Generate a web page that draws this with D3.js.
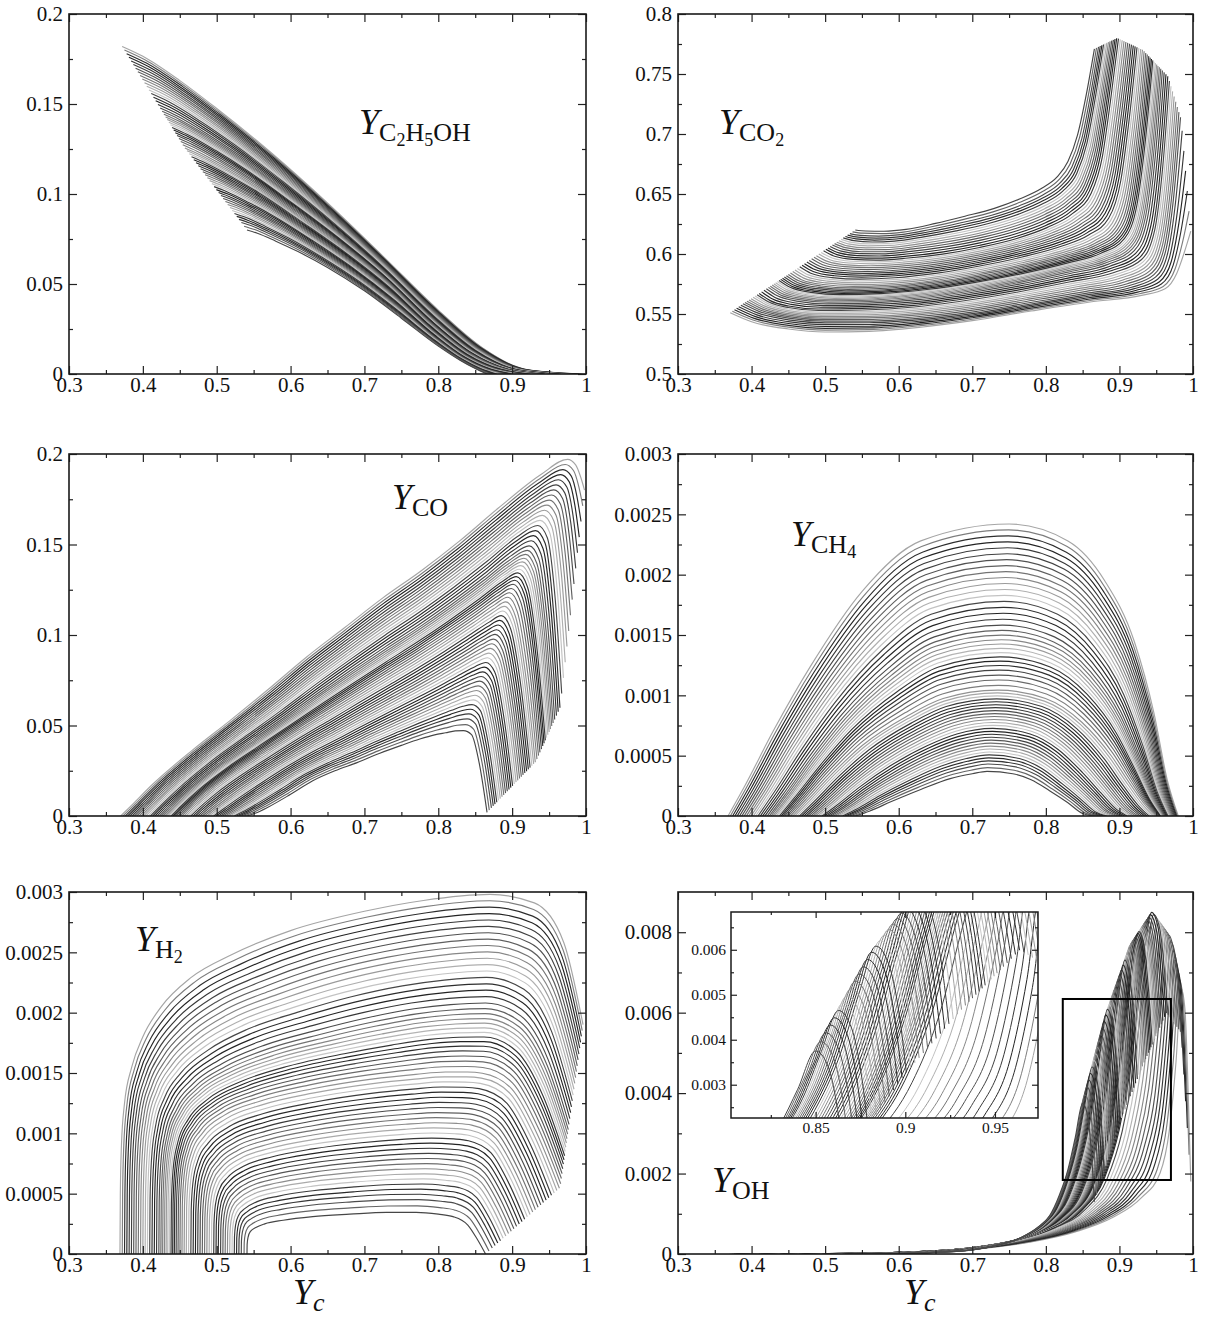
<!DOCTYPE html>
<html><head><meta charset="utf-8">
<script src="https://cdn.jsdelivr.net/npm/d3@7"></script>
<style>
body{margin:0;background:#fff}
svg{display:block}
text{font-family:"Liberation Serif","Times New Roman",serif}
</style>
</head><body>
<svg id="fig" width="1210" height="1319"></svg>
<script>
// ---------------- DATA ----------------
// flamelet family parameter (0 = earliest start, 1 = latest start), one per curve
const flameletU = [0,0.018,0.036,0.054,0.072,0.09,0.108,0.126,0.144,0.162,
  0.18,0.198,0.216,0.234,0.252,0.27,0.288,0.306,0.322,0.336,
  0.35,0.363,0.376,0.389,0.402,0.415,0.428,0.442,0.457,0.472,
  0.488,0.505,0.522,0.54,0.558,0.576,0.594,0.612,0.63,0.648,
  0.666,0.684,0.702,0.72,0.738,0.756,0.774,0.792,0.81,0.828,
  0.846,0.864,0.882,0.9,0.918,0.936,0.955,0.977,1.0];
// grey level of each curve
const flameletGray = [165,125,45,35,55,65,80,95,115,135,155,175,195,
  70,45,35,55,75,95,115,135,155,180,200,
  55,35,45,65,85,105,125,145,165,190,
  60,40,35,55,75,95,115,140,170,195,
  55,35,45,65,85,110,140,170,195,
  60,40,55,75,100,70];

// axis ticks
const xMajorTicks = [0.3,0.4,0.5,0.6,0.7,0.8,0.9,1.0];
const xMajorLabels = ["0.3","0.4","0.5","0.6","0.7","0.8","0.9","1"];
const xMinorTicks = [0.35,0.45,0.55,0.65,0.75,0.85,0.95];
const yTicksMass = [0,0.05,0.1,0.15,0.2];
const yLabelsMass = ["0","0.05","0.1","0.15","0.2"];
const yMinorMass = [0.025,0.075,0.125,0.175];
const yTicksCO2 = [0.5,0.55,0.6,0.65,0.7,0.75,0.8];
const yLabelsCO2 = ["0.5","0.55","0.6","0.65","0.7","0.75","0.8"];
const yMinorCO2 = [0.525,0.575,0.625,0.675,0.725,0.775];
const yTicksSmall = [0,0.0005,0.001,0.0015,0.002,0.0025,0.003];
const yLabelsSmall = ["0","0.0005","0.001","0.0015","0.002","0.0025","0.003"];
const yMinorSmall = [0.00025,0.00075,0.00125,0.00175,0.00225,0.00275];
const yTicksOH = [0,0.002,0.004,0.006,0.008];
const yLabelsOH = ["0","0.002","0.004","0.006","0.008"];
const yMinorOH = [0.001,0.003,0.005,0.007];
const insetXTicks = [0.85,0.9,0.95];
const insetXLabels = ["0.85","0.9","0.95"];
const insetXMinor = [0.825,0.875,0.925];
const insetYTicks = [0.003,0.004,0.005,0.006];
const insetYLabels = ["0.003","0.004","0.005","0.006"];
const insetYMinor = [0.0025,0.0035,0.0045,0.0055,0.0065];
const insetXDomain = [0.8028,0.974];
const insetYDomain = [0.00226,0.00684];
const ohZoomBox = [0.823,0.970,0.00184,0.00634];

// key curves  [Yc, Y]
const c2h5ohKeyU = [0,0.5,1];
const c2h5ohA = [[0.372,0.182],[0.40,0.1765],[0.45,0.163],[0.50,0.1475],[0.575,0.1225],[0.65,0.095],[0.725,0.0655],[0.80,0.0355],[0.86,0.0145],[0.92,0.0025],[0.995,0]];
const c2h5ohB = [[0.456,0.126],[0.475,0.1225],[0.51,0.1148],[0.55,0.105],[0.61,0.088],[0.67,0.0705],[0.73,0.051],[0.79,0.0275],[0.84,0.0115],[0.89,0.0025],[0.932,0]];
const c2h5ohC = [[0.541,0.080],[0.555,0.0782],[0.58,0.0738],[0.61,0.068],[0.65,0.0592],[0.70,0.0462],[0.75,0.031],[0.80,0.0155],[0.83,0.0075],[0.85,0.003],[0.866,0]];

const co2KeyU = [0,0.1,0.25,0.5,0.75,1];
const co2A = [[0.371,0.551],[0.40,0.5435],[0.45,0.5375],[0.50,0.535],[0.56,0.5355],[0.63,0.539],[0.70,0.5445],[0.78,0.5525],[0.86,0.560],[0.93,0.5655],[0.962,0.571],[0.978,0.584],[0.988,0.601],[0.997,0.619]];
const co2A1 = [[0.387,0.558],[0.41,0.5515],[0.45,0.546],[0.50,0.5435],[0.56,0.5435],[0.63,0.546],[0.70,0.551],[0.78,0.559],[0.86,0.567],[0.915,0.573],[0.948,0.582],[0.964,0.602],[0.975,0.648],[0.984,0.712]];
const co2D = [[0.41,0.567],[0.425,0.561],[0.45,0.5565],[0.49,0.554],[0.55,0.5545],[0.62,0.557],[0.69,0.5625],[0.76,0.5695],[0.83,0.578],[0.89,0.586],[0.928,0.597],[0.946,0.622],[0.957,0.676],[0.966,0.748]];
const co2B = [[0.455,0.585],[0.47,0.5795],[0.50,0.5755],[0.54,0.574],[0.59,0.575],[0.65,0.579],[0.71,0.585],[0.77,0.5925],[0.83,0.602],[0.865,0.61],[0.893,0.623],[0.91,0.655],[0.921,0.705],[0.932,0.770]];
const co2E = [[0.50,0.6035],[0.515,0.599],[0.54,0.5965],[0.57,0.596],[0.61,0.5975],[0.66,0.601],[0.71,0.6065],[0.76,0.614],[0.80,0.623],[0.835,0.635],[0.86,0.652],[0.875,0.682],[0.886,0.728],[0.897,0.780]];
const co2C = [[0.541,0.620],[0.555,0.6192],[0.58,0.619],[0.61,0.6205],[0.65,0.6255],[0.69,0.6315],[0.73,0.638],[0.765,0.646],[0.795,0.655],[0.815,0.664],[0.83,0.677],[0.843,0.699],[0.855,0.733],[0.866,0.771]];

const coKeyU = [0,0.25,0.5,1];
const coA = [[0.37,0],[0.385,0.006],[0.414,0.0178],[0.466,0.036],[0.518,0.0527],[0.57,0.070],[0.621,0.0876],[0.673,0.104],[0.725,0.1205],[0.777,0.1355],[0.829,0.152],[0.881,0.170],[0.94,0.189],[0.975,0.197],[0.986,0.194],[0.993,0.187],[0.998,0.18]];
const coD = [[0.413,0],[0.427,0.0058],[0.452,0.0155],[0.498,0.031],[0.544,0.0445],[0.59,0.058],[0.636,0.072],[0.682,0.0855],[0.728,0.0985],[0.774,0.111],[0.82,0.1245],[0.866,0.139],[0.905,0.152],[0.932,0.158],[0.945,0.151],[0.956,0.115],[0.965,0.06]];
const coB = [[0.455,0],[0.468,0.0055],[0.49,0.0135],[0.53,0.0255],[0.57,0.036],[0.61,0.0465],[0.65,0.0565],[0.69,0.0665],[0.73,0.0765],[0.77,0.0865],[0.81,0.097],[0.85,0.108],[0.875,0.115],[0.892,0.119],[0.905,0.111],[0.92,0.075],[0.932,0.03]];
const coC = [[0.541,0],[0.552,0.0015],[0.57,0.005],[0.60,0.012],[0.63,0.0195],[0.66,0.025],[0.69,0.0295],[0.72,0.0345],[0.75,0.039],[0.775,0.0425],[0.795,0.0448],[0.81,0.046],[0.823,0.047],[0.834,0.0472],[0.845,0.045],[0.856,0.028],[0.866,0.002]];

const ch4KeyU = [0,0.5,1];
const ch4A = [[0.368,0],[0.39,0.00024],[0.43,0.00071],[0.48,0.00124],[0.55,0.00186],[0.63,0.00228],[0.75,0.00242],[0.83,0.00228],[0.88,0.00195],[0.92,0.00145],[0.947,0.00085],[0.965,0.0003],[0.98,0]];
const ch4B = [[0.455,0],[0.475,0.00013],[0.51,0.00036],[0.55,0.00059],[0.61,0.00083],[0.66,0.00098],[0.735,0.00105],[0.80,0.00098],[0.85,0.00078],[0.89,0.0005],[0.915,0.00027],[0.935,0.0001],[0.95,0]];
const ch4C = [[0.541,0],[0.56,0.00004],[0.59,0.00012],[0.63,0.00022],[0.67,0.00031],[0.70,0.00035],[0.72,0.00037],[0.755,0.00035],[0.78,0.0003],[0.805,0.00021],[0.83,0.00011],[0.85,0.00002],[0.866,0]];

const h2KeyU = [0,0.5,1];
const h2A = [[0.369,0],[0.3695,0.0005],[0.371,0.0009],[0.375,0.00124],[0.385,0.00155],[0.40,0.0018],[0.425,0.00205],[0.465,0.00229],[0.52,0.00248],[0.60,0.00268],[0.70,0.00284],[0.78,0.00293],[0.87,0.00298],[0.93,0.00291],[0.97,0.00258],[0.996,0.0019]];
const h2B = [[0.455,0],[0.4555,0.0004],[0.458,0.00065],[0.465,0.00085],[0.48,0.00101],[0.51,0.00116],[0.56,0.00128],[0.63,0.00138],[0.71,0.00146],[0.77,0.0015],[0.81,0.00152],[0.84,0.00152],[0.86,0.00151],[0.90,0.00138],[0.935,0.001],[0.965,0.00055]];
const h2C = [[0.541,0],[0.5412,0.00008],[0.5425,0.00014],[0.546,0.00019],[0.553,0.00022],[0.565,0.00025],[0.59,0.00028],[0.63,0.00031],[0.68,0.00033],[0.73,0.000345],[0.77,0.000345],[0.80,0.00033],[0.82,0.00031],[0.84,0.00024],[0.853,0.00012],[0.864,0]];

const ohKeyU = [0,0.1,0.25,0.5,0.75,1];
const ohA = [[0.37,0],[0.50,0.00001],[0.60,0.00004],[0.70,0.00012],[0.78,0.0003],[0.84,0.00055],[0.89,0.0009],[0.93,0.0014],[0.955,0.002],[0.968,0.0031],[0.977,0.0048],[0.984,0.0066],[0.989,0.0061],[0.993,0.0043],[0.997,0.0018]];
const ohA1 = [[0.387,0],[0.51,0.00001],[0.60,0.00004],[0.70,0.00014],[0.77,0.00033],[0.83,0.0006],[0.875,0.001],[0.91,0.0016],[0.935,0.0026],[0.95,0.0039],[0.96,0.0058],[0.968,0.0079],[0.975,0.0075],[0.98,0.0066],[0.984,0.0055]];
const ohD = [[0.4125,0],[0.52,0.00001],[0.60,0.00004],[0.70,0.00016],[0.76,0.00035],[0.81,0.00065],[0.85,0.0011],[0.88,0.0019],[0.90,0.0031],[0.915,0.0046],[0.93,0.0068],[0.944,0.0085],[0.953,0.0081],[0.959,0.0071],[0.964,0.006]];
const ohB = [[0.455,0],[0.55,0.00001],[0.62,0.00004],[0.70,0.00014],[0.75,0.0003],[0.79,0.00055],[0.825,0.0009],[0.855,0.0016],[0.875,0.0028],[0.89,0.0044],[0.903,0.0063],[0.915,0.0077],[0.922,0.0072],[0.928,0.006],[0.932,0.0047]];
const ohE = [[0.498,0],[0.58,0.00001],[0.64,0.00004],[0.70,0.00012],[0.74,0.00025],[0.775,0.00045],[0.805,0.0008],[0.83,0.0014],[0.848,0.0024],[0.862,0.0036],[0.873,0.005],[0.882,0.006],[0.89,0.0055],[0.895,0.0045],[0.899,0.0032]];
const ohC = [[0.541,0],[0.60,0.00001],[0.65,0.00004],[0.70,0.0001],[0.735,0.00022],[0.765,0.0004],[0.79,0.00068],[0.805,0.00095],[0.818,0.00145],[0.83,0.0021],[0.84,0.0029],[0.85,0.00375],[0.857,0.0034],[0.862,0.0025],[0.866,0.0013]];

// ---------------- DRAWING ----------------
const svg = d3.select('#fig');
const FONT = '"Liberation Serif","Times New Roman",serif';

function blend(keyU, keys, u){
  let k = 0;
  while (k < keyU.length - 2 && u > keyU[k+1]) k++;
  const t = (u - keyU[k]) / (keyU[k+1] - keyU[k]);
  return keys[k].map((p, j) => [p[0] + (keys[k+1][j][0] - p[0]) * t, p[1] + (keys[k+1][j][1] - p[1]) * t]);
}

let clipCount = 0;
function drawCurves(g, x, y, keyU, keys, sw){
  const [xa, xb] = x.range(), [ya, yb] = y.range();
  const id = 'clip' + (clipCount++);
  svg.append('clipPath').attr('id', id).append('rect')
    .attr('x', Math.min(xa,xb)).attr('y', Math.min(ya,yb))
    .attr('width', Math.abs(xb-xa)).attr('height', Math.abs(yb-ya));
  const line = d3.line().x(d => x(d[0])).y(d => y(d[1])).curve(d3.curveMonotoneX);
  const cg = g.append('g').attr('clip-path', `url(#${id})`);
  cg.selectAll('path').data(flameletU).join('path')
    .attr('d', u => line(blend(keyU, keys, u)))
    .attr('fill', 'none')
    .attr('stroke', (u, i) => { const v = flameletGray[i]; return d3.rgb(v, v, v).toString(); })
    .attr('stroke-width', sw);
}

function axes(g, x, y, o){
  const [x0, x1] = x.range(); const [yb, yt] = y.range();
  const style = sel => {
    sel.select('.domain').remove();
    sel.attr('font-family', FONT).attr('font-size', o.fs);
    sel.selectAll('line').attr('stroke', '#222').attr('stroke-width', 1.2);
    sel.selectAll('text').attr('fill', '#111');
  };
  g.append('g').attr('transform', `translate(0,${yb})`)
    .call(d3.axisBottom(x).tickValues(o.xt).tickSize(-o.maj).tickSizeOuter(0).tickPadding(o.xpad).tickFormat((d,i)=>o.xl[i])).call(style);
  g.append('g').attr('transform', `translate(0,${yb})`)
    .call(d3.axisBottom(x).tickValues(o.xm).tickSize(-o.min).tickSizeOuter(0).tickFormat('')).call(style);
  g.append('g').attr('transform', `translate(0,${yt})`)
    .call(d3.axisTop(x).tickValues(o.xt).tickSize(-o.maj).tickSizeOuter(0).tickFormat('')).call(style);
  g.append('g').attr('transform', `translate(0,${yt})`)
    .call(d3.axisTop(x).tickValues(o.xm).tickSize(-o.min).tickSizeOuter(0).tickFormat('')).call(style);
  g.append('g').attr('transform', `translate(${x0},0)`)
    .call(d3.axisLeft(y).tickValues(o.yt).tickSize(-o.maj).tickSizeOuter(0).tickPadding(o.ypad).tickFormat((d,i)=>o.yl[i])).call(style);
  g.append('g').attr('transform', `translate(${x0},0)`)
    .call(d3.axisLeft(y).tickValues(o.ym).tickSize(-o.min).tickSizeOuter(0).tickFormat('')).call(style);
  g.append('g').attr('transform', `translate(${x1},0)`)
    .call(d3.axisRight(y).tickValues(o.yt).tickSize(-o.maj).tickSizeOuter(0).tickFormat('')).call(style);
  g.append('g').attr('transform', `translate(${x1},0)`)
    .call(d3.axisRight(y).tickValues(o.ym).tickSize(-o.min).tickSizeOuter(0).tickFormat('')).call(style);
  g.append('rect').attr('x', x0).attr('y', yt).attr('width', x1 - x0).attr('height', yb - yt)
    .attr('fill', 'none').attr('stroke', '#1a1a1a').attr('stroke-width', o.frame);
}

// math-style label: parts = [[text, level, italic]]
function mathLabel(g, px, py, parts){
  const sizes = [36, 26, 18], shifts = [0, 7, 12];
  const t = g.append('text').attr('x', px).attr('y', py).attr('fill', '#111');
  let cur = 0;
  parts.forEach(([s, lvl, it]) => {
    t.append('tspan').attr('dy', shifts[lvl] - cur).attr('font-size', sizes[lvl])
      .attr('font-style', it ? 'italic' : 'normal').text(s);
    cur = shifts[lvl];
  });
}

const cols = [[69, 586], [678, 1193]];
const rows = [[14, 374], [454, 816], [892, 1254]];

const panels = [
  {c:0, r:0, dom:[0,0.2], yt:yTicksMass, yl:yLabelsMass, ym:yMinorMass, keyU:c2h5ohKeyU, keys:[c2h5ohA,c2h5ohB,c2h5ohC],
   label:[359,134,[["Y",0,true],["C",1],["2",2],["H",1],["5",2],["OH",1]]]},
  {c:1, r:0, dom:[0.5,0.8], yt:yTicksCO2, yl:yLabelsCO2, ym:yMinorCO2, keyU:co2KeyU, keys:[co2A,co2A1,co2D,co2B,co2E,co2C],
   label:[719,134,[["Y",0,true],["CO",1],["2",2]]]},
  {c:0, r:1, dom:[0,0.2], yt:yTicksMass, yl:yLabelsMass, ym:yMinorMass, keyU:coKeyU, keys:[coA,coD,coB,coC],
   label:[392,509,[["Y",0,true],["CO",1]]]},
  {c:1, r:1, dom:[0,0.003], yt:yTicksSmall, yl:yLabelsSmall, ym:yMinorSmall, keyU:ch4KeyU, keys:[ch4A,ch4B,ch4C],
   label:[791,546,[["Y",0,true],["CH",1],["4",2]]]},
  {c:0, r:2, dom:[0,0.003], yt:yTicksSmall, yl:yLabelsSmall, ym:yMinorSmall, keyU:h2KeyU, keys:[h2A,h2B,h2C],
   label:[135,951,[["Y",0,true],["H",1],["2",2]]]},
  {c:1, r:2, dom:[0,0.009], yt:yTicksOH, yl:yLabelsOH, ym:yMinorOH, keyU:ohKeyU, keys:[ohA,ohA1,ohD,ohB,ohE,ohC],
   label:[712,1192,[["Y",0,true],["OH",1]]]}
];

panels.forEach((p, idx) => {
  const g = svg.append('g');
  const x = d3.scaleLinear().domain([0.3, 1]).range(cols[p.c]);
  const y = d3.scaleLinear().domain(p.dom).range([rows[p.r][1], rows[p.r][0]]);
  drawCurves(g, x, y, p.keyU, p.keys, 1.15);
  axes(g, x, y, {xt:xMajorTicks, xl:xMajorLabels, xm:xMinorTicks, yt:p.yt, yl:p.yl, ym:p.ym,
    maj:8, min:4, fs:21, xpad:3, ypad:6, frame:1.6});
  mathLabel(g, p.label[0], p.label[1], p.label[2]);
  if (idx === 5) {
    g.append('rect').attr('x', x(ohZoomBox[0])).attr('y', y(ohZoomBox[3]))
      .attr('width', x(ohZoomBox[1]) - x(ohZoomBox[0])).attr('height', y(ohZoomBox[2]) - y(ohZoomBox[3]))
      .attr('fill', 'none').attr('stroke', '#000').attr('stroke-width', 2);
    const ix = d3.scaleLinear().domain(insetXDomain).range([731, 1038]);
    const iy = d3.scaleLinear().domain(insetYDomain).range([1118, 912]);
    const ig = svg.append('g');
    ig.append('rect').attr('x', 731).attr('y', 912).attr('width', 307).attr('height', 206).attr('fill', '#fff');
    drawCurves(ig, ix, iy, p.keyU, p.keys, 1.0);
    axes(ig, ix, iy, {xt:insetXTicks, xl:insetXLabels, xm:insetXMinor, yt:insetYTicks, yl:insetYLabels, ym:insetYMinor,
      maj:6, min:3, fs:15.5, xpad:4, ypad:5, frame:1.5});
  }
});

// x-axis titles
mathLabel(svg, 293, 1304, [["Y",0,true],["c",1,true]]);
mathLabel(svg, 904, 1304, [["Y",0,true],["c",1,true]]);
</script>
</body></html>
